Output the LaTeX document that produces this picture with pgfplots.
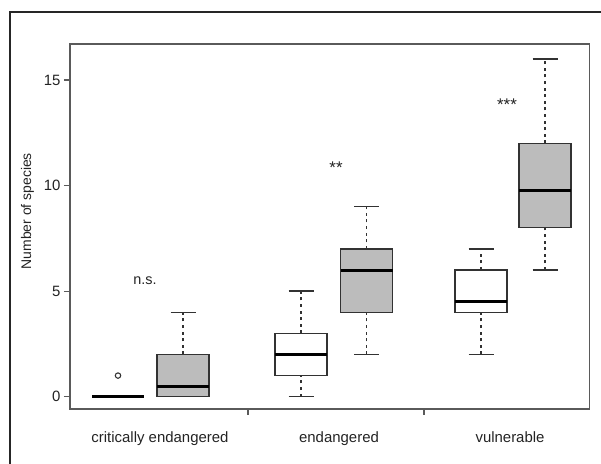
\documentclass[border=0pt]{standalone}
\usepackage{fontspec}
\setmainfont{Liberation Sans}
\usepackage{pgfplots}
\pgfplotsset{compat=1.18}
\definecolor{boxgray}{RGB}{188,188,188}
\definecolor{linegray}{RGB}{50,50,50}
\definecolor{axisgray}{RGB}{90,90,90}
\definecolor{txt}{RGB}{35,35,35}
\pgfplotsset{
  whisk/.style={linegray, line width=1.4bp, dash pattern=on 3bp off 3.6bp, mark=none},
  cap/.style={linegray, line width=1.3bp, mark=none},
  bx/.style={linegray, line width=1.4bp, mark=none},
  med/.style={black, line width=3bp, mark=none},
}
\begin{document}
\begin{tikzpicture}[x=1bp,y=1bp]
\useasboundingbox (0,0) rectangle (601,464);
\draw[line width=1.2bp, black!85] (10,0) -- (10,452) -- (601,452);
\begin{axis}[
  at={(70bp,55bp)}, anchor=south west,
  scale only axis, width=519.3bp, height=365bp,
  xmin=70, xmax=589.3, ymin=-0.583, ymax=16.705,
  axis line style={axisgray, line width=1.6bp},
  tick pos=left, tick align=outside,
  major tick length=6bp,
  tick style={axisgray, line width=1.2bp},
  ytick={0,5,10,15},
  xtick={248,424}, xticklabels={},
  extra x ticks={160,339,510},
  extra x tick labels={critically endangered, endangered, vulnerable},
  extra x tick style={major tick length=0pt,
    tick label style={anchor=base, yshift=-34bp, font=\fontsize{15}{17}\selectfont}},
  /pgf/number format/assume math mode=true,
  ticklabel style={font=\fontsize{15}{17}\selectfont, text=txt},
  ylabel={Number of species},
  ylabel style={at={(rel axis cs:-0.0818,0.542)}, anchor=center,
    font=\fontsize{14}{16}\selectfont, text=txt},
  clip=false,
]
% ---- critically endangered, white: all quartiles 0, one outlier at 1
\addplot[med] coordinates {(92,0) (144,0)};
\addplot[only marks, mark=o, mark size=2.7bp, mark options={solid, linegray, line width=1.1bp}]
  coordinates {(118,1)};
% ---- critically endangered, grey: 0 / 0 / 0.5 / 2 / 4
\addplot[whisk] coordinates {(183,2) (183,4)};
\addplot[bx, fill=boxgray] coordinates {(157,0) (209,0) (209,2) (157,2)} -- cycle;
\addplot[cap] coordinates {(170.5,4) (195.5,4)};
\addplot[cap] coordinates {(170.5,0) (195.5,0)};
\addplot[med] coordinates {(157,0.5) (209,0.5)};
% ---- endangered, white: 0 / 1 / 2 / 3 / 5
\addplot[whisk] coordinates {(301,0) (301,1)};
\addplot[whisk] coordinates {(301,3) (301,5)};
\addplot[bx, fill=white] coordinates {(275,1) (327,1) (327,3) (275,3)} -- cycle;
\addplot[cap] coordinates {(288.5,0) (313.5,0)};
\addplot[cap] coordinates {(288.5,5) (313.5,5)};
\addplot[med] coordinates {(275,2) (327,2)};
% ---- endangered, grey: 2 / 4 / 6 / 7 / 9
\addplot[whisk] coordinates {(366.5,2) (366.5,4)};
\addplot[whisk] coordinates {(366.5,7) (366.5,9)};
\addplot[bx, fill=boxgray] coordinates {(340.5,4) (392.5,4) (392.5,7) (340.5,7)} -- cycle;
\addplot[cap] coordinates {(354,2) (379,2)};
\addplot[cap] coordinates {(354,9) (379,9)};
\addplot[med] coordinates {(340.5,6) (392.5,6)};
% ---- vulnerable, white: 2 / 4 / 4.5 / 6 / 7
\addplot[whisk] coordinates {(481,2) (481,4)};
\addplot[whisk] coordinates {(481,6) (481,7)};
\addplot[bx, fill=white] coordinates {(455,4) (507,4) (507,6) (455,6)} -- cycle;
\addplot[cap] coordinates {(468.5,2) (493.5,2)};
\addplot[cap] coordinates {(468.5,7) (493.5,7)};
\addplot[med] coordinates {(455,4.5) (507,4.5)};
% ---- vulnerable, grey: 6 / 8 / 9.75 / 12 / 16
\addplot[whisk] coordinates {(545,6) (545,8)};
\addplot[whisk] coordinates {(545,12) (545,16)};
\addplot[bx, fill=boxgray] coordinates {(519,8) (571,8) (571,12) (519,12)} -- cycle;
\addplot[cap] coordinates {(532.5,6) (557.5,6)};
\addplot[cap] coordinates {(532.5,16) (557.5,16)};
\addplot[med] coordinates {(519,9.75) (571,9.75)};
% significance labels
\node[font=\fontsize{14.5}{16}\selectfont, text=txt, anchor=center] at (axis cs:145,5.5) {n.s.};
\node[font=\fontsize{17}{18}\selectfont, text=txt, anchor=center, yshift=-3.5bp] at (axis cs:336,11) {**};
\node[font=\fontsize{17}{18}\selectfont, text=txt, anchor=center, yshift=-3.5bp] at (axis cs:507,14) {***};
\end{axis}
\end{tikzpicture}
\end{document}
